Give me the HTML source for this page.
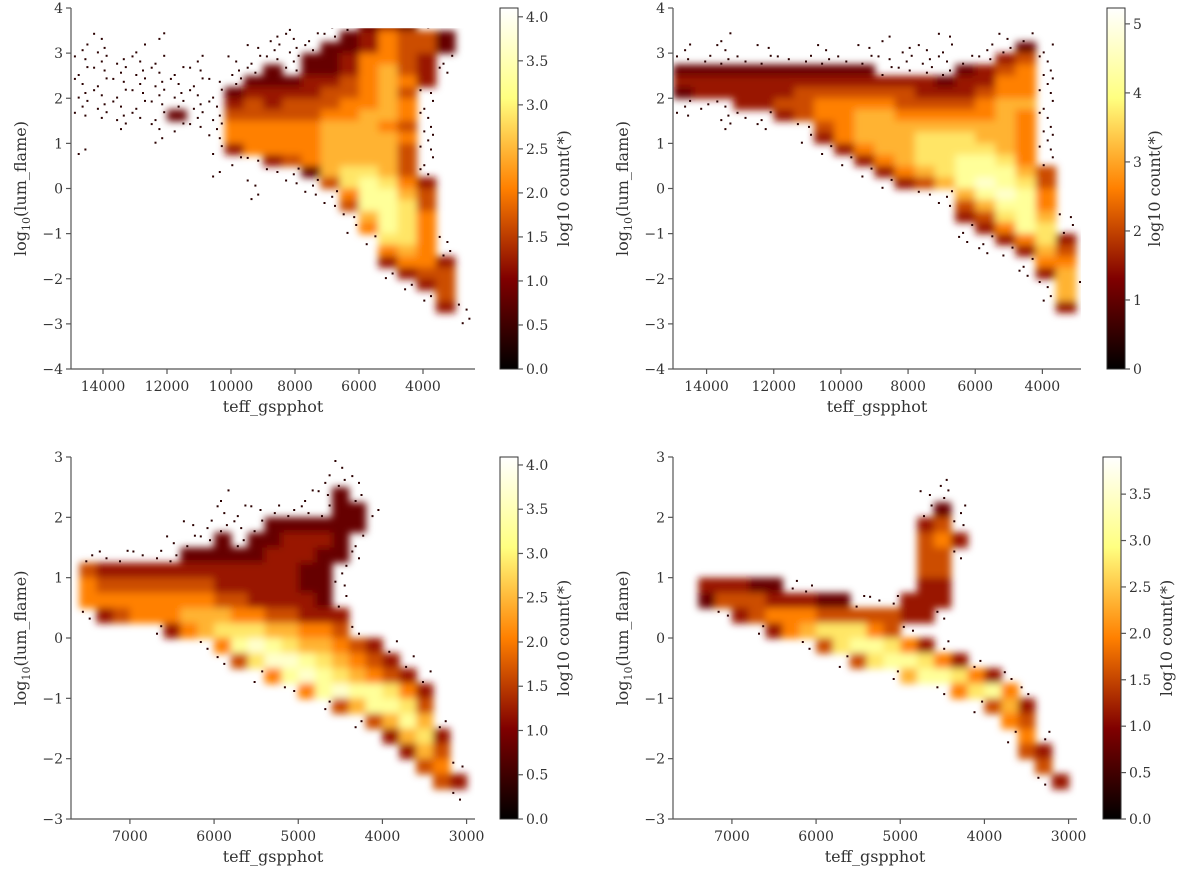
<!DOCTYPE html>
<html><head><meta charset="utf-8">
<style>
html,body{margin:0;padding:0;background:#fff;}
svg{display:block;font-family:"DejaVu Serif","Liberation Serif",serif;}
</style></head>
<body>
<svg id="fig" width="1200" height="870" viewBox="0 0 1200 870" xmlns="http://www.w3.org/2000/svg">
<defs>
<linearGradient id="afm" x1="0" y1="1" x2="0" y2="0">
<stop offset="0" stop-color="#000000"/><stop offset="0.25" stop-color="#800000"/>
<stop offset="0.5" stop-color="#ff8000"/><stop offset="0.75" stop-color="#ffff80"/>
<stop offset="1" stop-color="#ffffff"/></linearGradient>
<filter id="soft" x="-5%" y="-5%" width="110%" height="110%"><feGaussianBlur stdDeviation="3.8"/></filter>
</defs>
</svg>
<script>
// ---------- data (log10 counts, digit 0-9 scaled to vmax; 'a' = sparse scatter) ----------
const p1Grid = [
"...........aaaa232a..",
".a..a.....aaaa235442.",
"aa.a.....aaaa2235442.",
"aaaaa.a.aaaa2235543a.",
"aaaaaaa.aa2a2235643a.",
"aaaaaaaaa2223345653..",
"aaaaaaaa2333344564a..",
"aaaaaaaa3434445565a..",
"aaaaa2aa4444455665a..",
"..a.aaaa5555566654a..",
"....a..a5555566665a..",
"a......a3555566664a..",
"........aa34566664a..",
".......a..aa267764a..",
".........a.aa478753..",
".........a..aa58864..",
".............a48874..",
"..............a6875..",
"..............a5875..",
"...............a775a.",
"................565a.",
"................3553.",
"................a344.",
".................a34.",
"..................a4.",
"...................3a",
"....................a"];
const p2Grid = [
".....................",
"..a.......a..a..aa...",
"a.a.a..a.a.aaa.aa2a..",
"aaaaaaaaaaaaaaaa34a..",
"2222222222aaaa2345a..",
"333333333333323355a..",
"233333444444333455a..",
"aaa334455554444566a..",
"a.aaa3455665555565a..",
"..a.a.a45666666665a..",
"......a35666777665a..",
".......a3566777765a..",
"........a356778875a..",
".........a356788864..",
"..........a34689874..",
"............aa68985..",
".............a46885..",
"..............34786a.",
"..............a3587a.",
"..............aa3573.",
"...............aa364.",
".................a55.",
".................a36.",
"..................a6a",
"..................a6.",
"...................3.",
"....................."];
const p3Grid = [
"...............a........",
"..............aaa.......",
"........a....aa2a.......",
"........aaaaaaa22a......",
"......aaaaa222222.......",
".....aaa2a223332a.......",
"aaaaaa2222233322a.......",
"433333333333322a........",
"544444443333322a........",
"555555554433332a........",
"a345556665544333........",
"....a35677766554a.......",
".......a5898766543a.....",
"........a4799876543a....",
"..........a589876543a...",
"............a58988753...",
"..............a468874...",
"................a4686a..",
"..................3673..",
"...................364..",
"....................45a.",
".....................43.",
"......................a.",
"........................"];
const p4Grid = [
"........................",
"...............a........",
"..............aa........",
"..............a2a.......",
"..............34a.......",
"..............453.......",
"..............44a.......",
"..............44........",
".33322aa......33........",
".244433322aaa333........",
"..a345554444433a........",
"....a35677754a..........",
".......a4788753a........",
".........a4788753a......",
"............a688753a....",
"...............a5785a...",
".................a463...",
"...................54...",
"...................a5a..",
"....................43..",
".....................4..",
".....................a3.",
"........................",
"........................"];
const topXTicks = [14000,12000,10000,8000,6000,4000];
const topYTicks = [-4,-3,-2,-1,0,1,2,3,4];
const botXTicks = [7000,6000,5000,4000,3000];
const botYTicks = [-3,-2,-1,0,1,2,3];
const cb1Ticks = [0,0.5,1,1.5,2,2.5,3,3.5,4];
const cb2Ticks = [0,1,2,3,4,5];
const cb3Ticks = [0,0.5,1,1.5,2,2.5,3,3.5,4];
const cb4Ticks = [0,0.5,1,1.5,2,2.5,3,3.5];
const vmaxes = [4.1,5.23,4.09,3.9];

// ---------- rendering ----------
const NS="http://www.w3.org/2000/svg";
const svg=document.getElementById('fig');
function mk(tag,attrs,parent){const e=document.createElementNS(NS,tag);for(const k in attrs)e.setAttribute(k,attrs[k]);(parent||svg).appendChild(e);return e;}
function afm(x){x=Math.max(0,Math.min(1,x));const c=v=>Math.round(255*Math.max(0,Math.min(1,v)));return `rgb(${c(2*x)},${c(2*x-0.5)},${c(2*x-1)})`;}
const DOTS=[[0.15,0.2],[0.55,0.65],[0.8,0.15],[0.35,0.85],[0.7,0.45]];

const panels=[
 {grid:p1Grid,t0:15000,dt:600,l0:3.75,dl:0.25,xd:[15000,2375],xr:[71,475],yd:[-4,4],yr:[369,8],xt:topXTicks,yt:topYTicks,cb:[500,518],cbt:cb1Ticks,dec:1,ylx:21,cbl:564,name:'top-left',ymax:3.55},
 {grid:p2Grid,t0:15000,dt:600,l0:3.75,dl:0.25,xd:[15000,2850],xr:[673,1081],yd:[-4,4],yr:[369,8],xt:topXTicks,yt:topYTicks,cb:[1107,1125],cbt:cb2Ticks,dec:0,ylx:623,cbl:1155,name:'top-right',ymax:4},
 {grid:p3Grid,t0:7600,dt:200,l0:3,dl:0.25,xd:[7700,2900],xr:[71,475],yd:[-3,3],yr:[819,457],xt:botXTicks,yt:botYTicks,cb:[500,518],cbt:cb3Ticks,dec:1,ylx:21,cbl:564,name:'bottom-left',ymax:3},
 {grid:p4Grid,t0:7600,dt:200,l0:3,dl:0.25,xd:[7700,2900],xr:[673,1077],yd:[-3,3],yr:[819,457],xt:botXTicks,yt:botYTicks,cb:[1103,1121],cbt:cb4Ticks,dec:1,ylx:623,cbl:1167,name:'bottom-right',ymax:3}
];
const AX='#555', TX='#333';
panels.forEach((p,pi)=>{
  const vmax=vmaxes[pi];
  const sx=v=>p.xr[0]+(v-p.xd[0])/(p.xd[1]-p.xd[0])*(p.xr[1]-p.xr[0]);
  const sy=v=>p.yr[0]+(v-p.yd[0])/(p.yd[1]-p.yd[0])*(p.yr[1]-p.yr[0]);
  const g=mk('g',{});
  
  
  const clipId='clip'+pi;
  const cp=mk('clipPath',{id:clipId},g);
  mk('rect',{x:p.xr[0],y:sy(p.ymax),width:p.xr[1]-p.xr[0],height:p.yr[0]-sy(p.ymax)},cp);
  const heat=mk('g',{'clip-path':`url(#${clipId})`},g);
  
  
  const solid=mk('g',{filter:'url(#soft)'},heat);
  const dots=mk('g',{},heat);
  p.grid.forEach((row,r)=>{
    const lt=p.l0-r*p.dl, lb=lt-p.dl;
    const y1=sy(lt), y2=sy(lb);
    for(let c=0;c<row.length;c++){
      const ch=row[c]; if(ch==='.')continue;
      const ta=p.t0-c*p.dt, tb=ta-p.dt;
      const x1=sx(ta), x2=sx(tb);
      const w=x2-x1, h=y2-y1;
      if(ch==='a'){
        for(let k=0;k<2;k++){
          const d=DOTS[(r*3+c*2+k)%DOTS.length];
          const dot=mk('rect',{x:(x1+d[0]*w).toFixed(1),y:(y1+d[1]*h).toFixed(1),width:2,height:2,fill:'#2a0000'},dots);
          
          
        }
      } else {
        const v=(+ch)/10*vmax;
        const cell=mk('rect',{x:x1.toFixed(1),y:y1.toFixed(1),width:(w+0.6).toFixed(1),height:(h+0.6).toFixed(1),fill:afm(v/vmax)},solid);
        
        
      }
    }
  });
  // axes
  const ax=mk('g',{},g);
  
  
  mk('line',{x1:p.xr[0],y1:p.yr[0],x2:p.xr[1],y2:p.yr[0],stroke:AX,'stroke-width':1.2},ax);
  mk('line',{x1:p.xr[0],y1:p.yr[0],x2:p.xr[0],y2:p.yr[1],stroke:AX,'stroke-width':1.2},ax);
  p.xt.forEach(t=>{const x=sx(t);
    mk('line',{x1:x,y1:p.yr[0],x2:x,y2:p.yr[0]+5,stroke:AX,'stroke-width':1.2},ax);
    const tl=mk('text',{x:x,y:p.yr[0]+22,'text-anchor':'middle','font-size':14,fill:TX},ax);
    tl.textContent=t;
    
    
  });
  p.yt.forEach(t=>{const y=sy(t);
    mk('line',{x1:p.xr[0]-5,y1:y,x2:p.xr[0],y2:y,stroke:AX,'stroke-width':1.2},ax);
    const tl=mk('text',{x:p.xr[0]-8,y:y+5,'text-anchor':'end','font-size':14,fill:TX},ax);
    tl.textContent=t<0?'\u2212'+Math.abs(t):t;
    
    
  });
  const xl=mk('text',{x:(p.xr[0]+p.xr[1])/2,y:p.yr[0]+43,'text-anchor':'middle','font-size':16,fill:TX},ax);
  xl.textContent='teff_gspphot';
  
  
  const yc=(p.yr[0]+p.yr[1])/2;
  const yl=mk('text',{x:0,y:0,'text-anchor':'middle','font-size':16,fill:TX,transform:`translate(${p.ylx+5},${yc}) rotate(-90)`},ax);
  yl.innerHTML='log<tspan font-size="11" dy="4">10</tspan><tspan dy="-4">(lum_flame)</tspan>';
  
  
  // colorbar
  const cbg=mk('g',{},g);
  
  
  mk('rect',{x:p.cb[0],y:p.yr[1],width:p.cb[1]-p.cb[0],height:p.yr[0]-p.yr[1],fill:'url(#afm)',stroke:'#333','stroke-width':1},cbg);
  const cy=v=>p.yr[0]-v/vmax*(p.yr[0]-p.yr[1]);
  p.cbt.forEach(t=>{const y=cy(t);
    mk('line',{x1:p.cb[1],y1:y,x2:p.cb[1]+5,y2:y,stroke:AX,'stroke-width':1.2},cbg);
    const tl=mk('text',{x:p.cb[1]+8,y:y+5,'font-size':14,fill:TX},cbg);
    tl.textContent=t.toFixed(p.dec);
    
    
  });
  const cl=mk('text',{x:0,y:0,'text-anchor':'middle','font-size':16,fill:TX,transform:`translate(${p.cbl+5},${yc}) rotate(-90)`},cbg);
  cl.textContent='log10 count(*)';
  
  
});
</script>
</body></html>
